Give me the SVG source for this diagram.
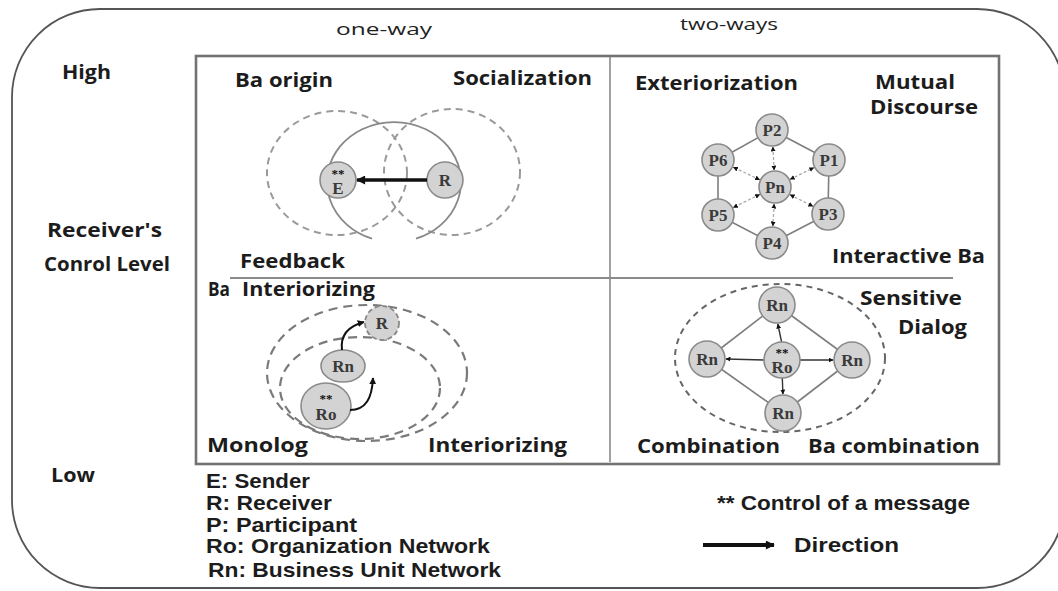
<svg xmlns="http://www.w3.org/2000/svg" width="1058" height="591" viewBox="0 0 1058 591">
<style>
.lbl{font-family:"Open Sans","Liberation Sans",sans-serif;font-weight:700;font-size:19px;fill:#1c1c1c}
.hdr{font-family:"Open Sans","Liberation Sans",sans-serif;font-size:17px;fill:#222}
.leg{font-family:"Liberation Sans","Open Sans",sans-serif;font-weight:700;font-size:21px;fill:#1c1c1c}
.node{fill:#d3d3d3;stroke:#8a8a8a;stroke-width:1.6}
.nt{font-family:"Liberation Serif",serif;font-size:17px;font-weight:700;fill:#3a3a3a;text-anchor:middle}
.st{font-family:"Liberation Serif",serif;font-size:13px;font-weight:700;fill:#111;text-anchor:middle}
.dsh{fill:none;stroke:#9a9a9a;stroke-width:2;stroke-dasharray:7 5}
.dsh2{fill:none;stroke:#7a7a7a;stroke-width:2.2;stroke-dasharray:9 6}
.edge{stroke:#7e7e7e;stroke-width:1.6;fill:none}
.hd{stroke:#aaa;stroke-width:1.3;stroke-dasharray:3 2;fill:none}
.arr{stroke:#333;stroke-width:1.4;fill:none}
</style>
<defs>
<marker id="big" viewBox="0 0 10 10" refX="9" refY="5" markerWidth="10" markerHeight="9" markerUnits="userSpaceOnUse" orient="auto"><path d="M0,0 L10,5 L0,10 z" fill="#111"/></marker>
<marker id="sm" viewBox="0 0 10 10" refX="9" refY="5" markerWidth="5" markerHeight="5" markerUnits="userSpaceOnUse" orient="auto-start-reverse"><path d="M0,0 L10,5 L0,10 z" fill="#111"/></marker>
<marker id="md" viewBox="0 0 10 10" refX="9" refY="5" markerWidth="7" markerHeight="7" markerUnits="userSpaceOnUse" orient="auto"><path d="M0,0 L10,5 L0,10 z" fill="#111"/></marker>
</defs>

<g id="frame">
<rect x="12" y="9" width="1053" height="579" rx="88" fill="none" stroke="#555" stroke-width="1.8"/>
<rect x="196" y="56" width="803" height="408" fill="none" stroke="#727272" stroke-width="2.6"/>
<line x1="610" y1="57" x2="610" y2="462" stroke="#8a8a8a" stroke-width="1.6"/>
<line x1="230" y1="278" x2="953" y2="278" stroke="#8a8a8a" stroke-width="1.8"/>
</g>

<g id="axis-labels">
<text class="hdr" x="336" y="35" textLength="96" lengthAdjust="spacingAndGlyphs">one-way</text>
<text class="hdr" x="680" y="30" textLength="98" lengthAdjust="spacingAndGlyphs">two-ways</text>
<text class="lbl" x="62" y="79" textLength="49" lengthAdjust="spacingAndGlyphs">High</text>
<text class="lbl" x="47" y="237" textLength="115" lengthAdjust="spacingAndGlyphs">Receiver's</text>
<text class="lbl" x="44" y="271" textLength="126" lengthAdjust="spacingAndGlyphs">Conrol Level</text>
<text class="lbl" x="51" y="482" textLength="44" lengthAdjust="spacingAndGlyphs">Low</text>
</g>

<g id="quadrant-socialization">
<ellipse class="dsh" cx="337" cy="173" rx="70" ry="62"/>
<ellipse class="dsh" cx="452" cy="172" rx="68" ry="63"/>
<path d="M372,238.7 A67,60 0 1 1 416,238.7" fill="none" stroke="#888" stroke-width="1.8"/>
<text class="lbl" x="235" y="87" textLength="98" lengthAdjust="spacingAndGlyphs">Ba origin</text>
<text class="lbl" x="453" y="85" textLength="139" lengthAdjust="spacingAndGlyphs">Socialization</text>
<text class="lbl" x="240" y="268" textLength="105" lengthAdjust="spacingAndGlyphs">Feedback</text>
</g>
<g id="node-E"><circle class="node" cx="338" cy="180" r="18"/><text class="st" x="338" y="178">**</text><text class="nt" x="338" y="194" font-size="15">E</text></g>
<g id="node-R1"><circle class="node" cx="445" cy="180" r="18"/><text class="nt" x="445" y="186">R</text></g>

<g id="quadrant-exteriorization">
<text class="lbl" x="635" y="90" textLength="163" lengthAdjust="spacingAndGlyphs">Exteriorization</text>
<text class="lbl" x="875" y="89" textLength="80" lengthAdjust="spacingAndGlyphs">Mutual</text>
<text class="lbl" x="870" y="114" textLength="108" lengthAdjust="spacingAndGlyphs">Discourse</text>
<text class="lbl" x="832" y="263" textLength="153" lengthAdjust="spacingAndGlyphs">Interactive Ba</text>
</g>

<g id="quadrant-interiorizing">
<ellipse class="dsh2" cx="367" cy="373" rx="100" ry="68"/>
<ellipse class="dsh2" cx="360" cy="388" rx="80" ry="51"/>
<text class="lbl" x="208" y="296" textLength="22" lengthAdjust="spacingAndGlyphs">Ba</text>
<text class="lbl" x="242" y="296" textLength="133" lengthAdjust="spacingAndGlyphs">Interiorizing</text>
<text class="lbl" x="207" y="452" textLength="101" lengthAdjust="spacingAndGlyphs">Monolog</text>
<text class="lbl" x="428" y="452" textLength="139" lengthAdjust="spacingAndGlyphs">Interiorizing</text>
</g>
<g id="node-R3"><circle cx="382" cy="323" r="17" fill="#d3d3d3" stroke="#888" stroke-width="1.8" stroke-dasharray="5 3"/><text class="nt" x="382" y="329">R</text></g>
<g id="node-Rn3"><ellipse class="node" cx="343" cy="366" rx="22" ry="16"/><text class="nt" x="343" y="372">Rn</text></g>
<g id="node-Ro3"><ellipse class="node" cx="326" cy="406" rx="25" ry="23"/><text class="st" x="326" y="403">**</text><text class="nt" x="326" y="420">Ro</text></g>

<g id="quadrant-combination">
<ellipse cx="780" cy="358" rx="105" ry="74" fill="none" stroke="#666" stroke-width="2" stroke-dasharray="6 5"/>
<text class="lbl" x="860" y="305" textLength="102" lengthAdjust="spacingAndGlyphs">Sensitive</text>
<text class="lbl" x="898" y="334" textLength="69" lengthAdjust="spacingAndGlyphs">Dialog</text>
<text class="lbl" x="637" y="453" textLength="143" lengthAdjust="spacingAndGlyphs">Combination</text>
<text class="lbl" x="808" y="453" textLength="172" lengthAdjust="spacingAndGlyphs">Ba combination</text>
</g>

<g id="connectors">
<line x1="427" y1="180" x2="357" y2="180" stroke="#111" stroke-width="3.5" marker-end="url(#big)"/>
<line class="edge" x1="772" y1="130" x2="829" y2="160"/>
<line class="edge" x1="829" y1="160" x2="828" y2="214"/>
<line class="edge" x1="828" y1="214" x2="772" y2="243"/>
<line class="edge" x1="772" y1="243" x2="718" y2="215"/>
<line class="edge" x1="718" y1="215" x2="718" y2="160"/>
<line class="edge" x1="718" y1="160" x2="772" y2="130"/>
<line class="hd" x1="774.1" y1="170" x2="772.9" y2="147" marker-start="url(#sm)" marker-end="url(#sm)"/>
<line class="hd" x1="759.6" y1="179.7" x2="733.4" y2="167.3" marker-start="url(#sm)" marker-end="url(#sm)"/>
<line class="hd" x1="790.2" y1="179.4" x2="813.8" y2="167.6" marker-start="url(#sm)" marker-end="url(#sm)"/>
<line class="hd" x1="759.7" y1="194.5" x2="733.3" y2="207.5" marker-start="url(#sm)" marker-end="url(#sm)"/>
<line class="hd" x1="790.1" y1="194.7" x2="812.9" y2="206.3" marker-start="url(#sm)" marker-end="url(#sm)"/>
<line class="hd" x1="774.1" y1="204" x2="772.9" y2="226" marker-start="url(#sm)" marker-end="url(#sm)"/>
<path d="M350,410 C366,410 372,398 373,378" fill="none" stroke="#111" stroke-width="2" marker-end="url(#md)"/>
<path d="M342,350 C340,334 349,326 364,322" fill="none" stroke="#111" stroke-width="2" marker-end="url(#md)"/>
<line class="edge" x1="777" y1="305" x2="707" y2="359"/>
<line class="edge" x1="777" y1="305" x2="852" y2="360"/>
<line class="edge" x1="707" y1="359" x2="783" y2="413"/>
<line class="edge" x1="852" y1="360" x2="783" y2="413"/>
<line class="arr" x1="781.6" y1="342" x2="777.8" y2="324" marker-end="url(#sm)"/>
<line class="arr" x1="764" y1="360" x2="726" y2="359" marker-end="url(#sm)"/>
<line class="arr" x1="800" y1="360" x2="833" y2="360" marker-end="url(#sm)"/>
<line class="arr" x1="782.3" y1="378" x2="782.9" y2="394" marker-end="url(#sm)"/>
<line x1="703" y1="545" x2="774" y2="545" stroke="#111" stroke-width="4" marker-end="url(#big)"/>
</g>

<g id="node-P2"><circle class="node" cx="772" cy="130" r="16"/><text class="nt" x="772" y="136">P2</text></g>
<g id="node-P6"><circle class="node" cx="718" cy="160" r="16"/><text class="nt" x="718" y="166">P6</text></g>
<g id="node-P1"><circle class="node" cx="829" cy="160" r="16"/><text class="nt" x="829" y="166">P1</text></g>
<g id="node-Pn"><circle class="node" cx="775" cy="187" r="16"/><text class="nt" x="775" y="193">Pn</text></g>
<g id="node-P5"><circle class="node" cx="718" cy="215" r="16"/><text class="nt" x="718" y="221">P5</text></g>
<g id="node-P3"><circle class="node" cx="828" cy="214" r="16"/><text class="nt" x="828" y="220">P3</text></g>
<g id="node-P4"><circle class="node" cx="772" cy="243" r="16"/><text class="nt" x="772" y="249">P4</text></g>

<g id="node-Rn-top"><circle class="node" cx="777" cy="305" r="18"/><text class="nt" x="777" y="311">Rn</text></g>
<g id="node-Rn-left"><circle class="node" cx="707" cy="359" r="18"/><text class="nt" x="707" y="365">Rn</text></g>
<g id="node-Ro4"><circle class="node" cx="782" cy="360" r="18"/><text class="st" x="782" y="357">**</text><text class="nt" x="782" y="373">Ro</text></g>
<g id="node-Rn-right"><circle class="node" cx="852" cy="360" r="18"/><text class="nt" x="852" y="366">Rn</text></g>
<g id="node-Rn-bottom"><circle class="node" cx="783" cy="413" r="18"/><text class="nt" x="783" y="419">Rn</text></g>

<g id="legend">
<text class="leg" x="206" y="488" textLength="104" lengthAdjust="spacingAndGlyphs">E: Sender</text>
<text class="leg" x="206" y="510" textLength="126" lengthAdjust="spacingAndGlyphs">R: Receiver</text>
<text class="leg" x="206" y="532" textLength="151" lengthAdjust="spacingAndGlyphs">P: Participant</text>
<text class="leg" x="206" y="553" textLength="284" lengthAdjust="spacingAndGlyphs">Ro: Organization Network</text>
<text class="leg" x="208" y="577" textLength="293" lengthAdjust="spacingAndGlyphs">Rn: Business Unit Network</text>
<text class="leg" x="717" y="510" textLength="253" lengthAdjust="spacingAndGlyphs">** Control of a message</text>
<text class="leg" x="794" y="552" textLength="105" lengthAdjust="spacingAndGlyphs">Direction</text>
</g>
</svg>
